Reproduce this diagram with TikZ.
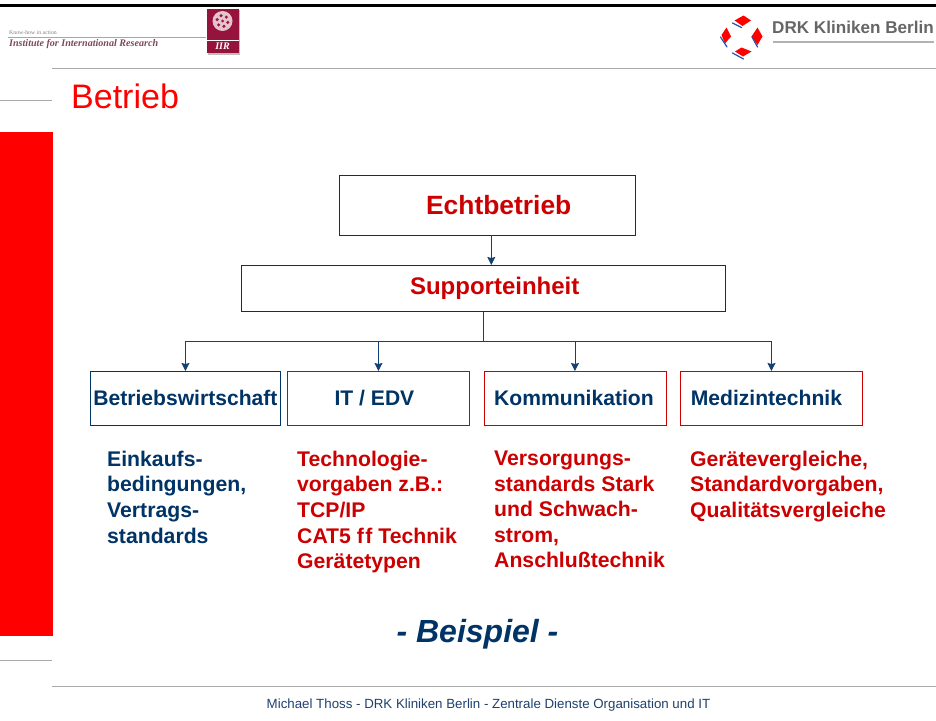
\documentclass[tikz,border=0pt]{standalone}
\usepackage{fontspec}
\setmainfont{Liberation Sans}
\newfontfamily\serifx{Liberation Serif}
\definecolor{navy}{RGB}{0,51,102}
\definecolor{dred}{RGB}{204,0,0}
\definecolor{brt}{RGB}{255,0,0}
\definecolor{rulegray}{RGB}{170,170,170}
\definecolor{iirred}{RGB}{150,20,60}
\definecolor{arrowc}{RGB}{20,65,115}
\definecolor{drkblue}{RGB}{40,80,170}
\definecolor{footc}{RGB}{30,65,110}
\usetikzlibrary{arrows.meta}
\tikzset{
  box/.style={draw,line width=0.9pt,inner sep=0pt,fill=white},
  navybox/.style={box,draw=navy},
  redbox/.style={box,draw=dred},
  lbl/.style={anchor=north west,align=left,inner sep=0pt,font=\fontsize{21.2}{25.6}\selectfont\bfseries},
  conn/.style={draw=arrowc,line width=0.9pt,-{Stealth[inset=1pt,length=8pt,width=8pt]}},
  plain/.style={draw=arrowc,line width=0.9pt},
  rulel/.style={draw=rulegray,line width=1pt},
  hdr/.style={minimum height=53.5pt,anchor=north west,font=\fontsize{21.1}{24}\selectfont\bfseries,text=navy},
  drkred/.style={fill=brt},
  drkstripe/.style={draw=drkblue,line width=1.2pt,line cap=round}
}
\begin{document}
\begin{tikzpicture}[x=1pt,y=-1pt]
\useasboundingbox (0,0) rectangle (936,720);
\fill[white] (0,0) rectangle (936,720);
% frame rules
\fill[black] (0,4) rectangle (936,6.7);
\coordinate (r1a) at (52,68); \coordinate (r1b) at (936,68);
\draw[rulel] (r1a) -- (r1b);
\coordinate (r2a) at (0,100); \coordinate (r2b) at (52,100);
\draw[rulel] (r2a) -- (r2b);
\coordinate (r3a) at (0,660); \coordinate (r3b) at (52,660);
\draw[rulel] (r3a) -- (r3b);
\coordinate (r4a) at (52,686); \coordinate (r4b) at (936,686);
\draw[rulel] (r4a) -- (r4b);
\fill[brt] (0,132) rectangle (53,636);
% IIR logo
\node[anchor=west,inner sep=0pt,text=black!50,font=\serifx\fontsize{5.8}{6}\selectfont] (t1) at (9,32.5) {Know-how in action};
\draw[draw=black!35,line width=0.8pt] (8,37.5) -- (206,37.5);
\node[anchor=west,inner sep=0pt,text=iirred!55!black!75,font=\serifx\fontsize{10.1}{11}\selectfont\bfseries\itshape] (t2) at (9,44.5) {Institute for International Research};
\fill[black!25] (208,10) rectangle (240,55);
\fill[iirred] (206.5,8.5) rectangle (238.5,53);
\draw[white,line width=0.5pt] (206.5,40) -- (238.5,40);
\fill[white!75!iirred] (222.5,21) circle (10);
\foreach \a in {0,60,...,300}{\fill[iirred] (222.5,21)++(\a+15:5.5) circle (1.7);}
\fill[iirred] (222.5,21) circle (1.5);
\node[inner sep=0pt,text=white,font=\serifx\fontsize{10}{10}\selectfont\bfseries\itshape] (t3) at (222.5,46) {IIR};
% DRK logo
\fill[drkred] (734.5,20.5) -- (743.5,15.5) -- (751,20.5) -- (742.5,26) -- cycle;
\fill[drkred] (757.5,27.5) -- (762.5,36.5) -- (757.5,45) -- (751.5,36.5) -- cycle;
\fill[drkred] (735,51.5) -- (741.5,47.5) -- (751.5,51.5) -- (743,56.5) -- cycle;
\fill[drkred] (726.5,27.5) -- (731,36.5) -- (725,43.5) -- (721.5,35) -- cycle;
\draw[drkstripe] (732.5,23) -- (741.5,27.5);
\draw[drkstripe] (752,37) -- (757.5,47);
\draw[drkstripe] (732.5,53) -- (743.5,59);
\draw[drkstripe] (720.5,37) -- (727,47);
\node[anchor=west,inner sep=0pt,text=black!60,font=\fontsize{17.1}{18}\selectfont\bfseries] (drk) at (772,27.5) {DRK Kliniken Berlin};
\draw[draw=black!30,line width=1.2pt] (773,42) -- (934,42);
% title
\node[anchor=base west,inner sep=0pt,text=brt,font=\fontsize{34}{36}\selectfont] (title) at (71,108) {Betrieb};
% boxes
\node[navybox,minimum width=295.5pt,minimum height=60pt,anchor=north west,text=dred,font=\fontsize{26.4}{28}\selectfont\bfseries] (echt) at (339,175) {\hspace*{23pt}Echtbetrieb};
\node[navybox,minimum width=484.5pt,minimum height=46pt,anchor=north west,text=dred,font=\fontsize{24}{26}\selectfont\bfseries] (supp) at (240.5,265) {\hspace*{23pt}Supporteinheit};
\node[navybox,hdr,minimum width=190pt] (a) at (90,371) {Betriebswirtschaft};
\node[redbox,hdr,minimum width=182pt] (b) at (287,371) {IT / EDV\hspace*{8pt}};
\node[redbox,hdr,minimum width=182pt] (c) at (483.5,371) {Kommunikation\hspace*{2pt}};
\node[redbox,hdr,minimum width=182pt] (d) at (680,371) {Medizintechnik\hspace*{10pt}};
% connectors
\coordinate (ea) at (491.3,235);
\draw[conn] (ea) -- (ea |- supp.north);
\coordinate (bus) at (483.7,341.3);
\draw[plain] (supp.south -| bus) -- (bus);
\draw[plain] (a.north |- bus) -- (d.north |- bus);
\draw[conn] (a.north |- bus) -- (a.north);
\draw[conn] (b.north |- bus) -- (b.north);
\draw[conn] (c.north |- bus) -- (c.north);
\draw[conn] (d.north |- bus) -- (d.north);
% texts
\node[lbl,text=navy] (la) at (107,450.7) {Einkaufs-\\bedingungen,\\Vertrags-\\standards};
\node[lbl,text=dred] (lb) at (297,450.7) {Technologie-\\vorgaben z.B.:\\TCP/IP\\CAT5 f\kern1.5pt f Technik\\Gerätetypen};
\node[lbl,text=dred] (lc) at (494,450.7) {Versorgungs-\\standards Stark\\und Schwach-\\strom,\\Anschlußtechnik};
\node[lbl,text=dred] (ld) at (690,450.7) {Gerätevergleiche,\\Standardvorgaben,\\Qualitätsvergleiche};
\node[anchor=base,inner sep=0pt,text=navy,font=\fontsize{32}{34}\selectfont\bfseries\itshape] (bsp) at (477.5,642.7) {- Beispiel -};
\node[inner sep=0pt,text=footc,font=\fontsize{13.3}{15}\selectfont] (foot) at (488.5,705) {Michael Thoss - DRK Kliniken Berlin - Zentrale Dienste Organisation und IT};
\end{tikzpicture}
\end{document}
